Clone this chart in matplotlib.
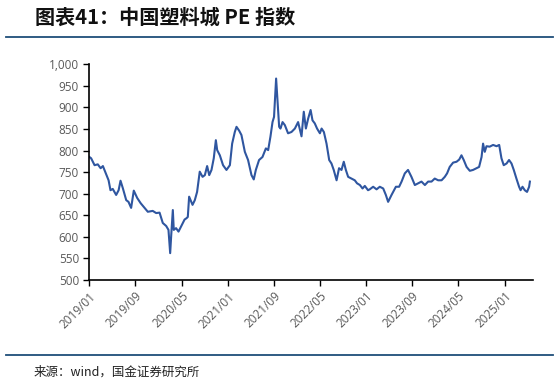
import pandas as pd
import matplotlib
matplotlib.use('Agg')
import matplotlib.pyplot as plt
from matplotlib.lines import Line2D
from matplotlib.ticker import FuncFormatter

plt.rcParams['font.family'] = ['Open Sans', 'Noto Sans CJK SC', 'DejaVu Sans']

# PE index readings (approximate)
dates = [
    "2019-01-01", "2019-01-10", "2019-01-28", "2019-02-14", "2019-03-01", "2019-03-13", "2019-03-25",
    "2019-04-12", "2019-04-22", "2019-05-04", "2019-05-22", "2019-06-04", "2019-06-14", "2019-06-26",
    "2019-07-14", "2019-07-26", "2019-08-09", "2019-08-23", "2019-09-10", "2019-09-28", "2019-10-19",
    "2019-11-05", "2019-12-01", "2019-12-19", "2020-01-06", "2020-01-23", "2020-02-10", "2020-02-22",
    "2020-03-02", "2020-03-07", "2020-03-16", "2020-03-21", "2020-04-02", "2020-04-15", "2020-05-02",
    "2020-05-17", "2020-05-27", "2020-06-03", "2020-06-10", "2020-06-28", "2020-07-10", "2020-07-22",
    "2020-08-05", "2020-08-20", "2020-09-01", "2020-09-13", "2020-09-24", "2020-10-06", "2020-10-18",
    "2020-10-29", "2020-11-05", "2020-11-19", "2020-12-06", "2020-12-24", "2021-01-11", "2021-01-23",
    "2021-02-06", "2021-02-15", "2021-03-01", "2021-03-13", "2021-03-31", "2021-04-17", "2021-05-05",
    "2021-05-17", "2021-05-28", "2021-06-14", "2021-07-02", "2021-07-20", "2021-08-01", "2021-08-13",
    "2021-08-24", "2021-09-01", "2021-09-12", "2021-09-18", "2021-09-28", "2021-10-05", "2021-10-16",
    "2021-10-28", "2021-11-14", "2021-12-02", "2021-12-20", "2022-01-06", "2022-01-24", "2022-02-05",
    "2022-02-16", "2022-02-28", "2022-03-13", "2022-03-23", "2022-04-04", "2022-04-16", "2022-05-01",
    "2022-05-10", "2022-05-22", "2022-06-05", "2022-06-19", "2022-07-01", "2022-07-13", "2022-07-28",
    "2022-08-10", "2022-08-23", "2022-09-04", "2022-09-15", "2022-09-27", "2022-10-15", "2022-11-01",
    "2022-11-13", "2022-11-28", "2022-12-12", "2022-12-24", "2023-01-10", "2023-01-19", "2023-02-06",
    "2023-02-24", "2023-03-13", "2023-03-31", "2023-04-14", "2023-04-26", "2023-05-14", "2023-06-06",
    "2023-06-23", "2023-07-06", "2023-07-23", "2023-08-09", "2023-08-27", "2023-09-14", "2023-10-01",
    "2023-10-19", "2023-11-06", "2023-11-23", "2023-12-11", "2023-12-28", "2024-01-15", "2024-02-02",
    "2024-02-19", "2024-03-02", "2024-03-16", "2024-04-03", "2024-04-21", "2024-05-05", "2024-05-17",
    "2024-05-29", "2024-06-13", "2024-06-30", "2024-07-17", "2024-08-04", "2024-08-18", "2024-08-31",
    "2024-09-08", "2024-09-17", "2024-09-26", "2024-10-13", "2024-10-31", "2024-11-18", "2024-12-02",
    "2024-12-14", "2024-12-26", "2025-01-10", "2025-01-23", "2025-02-05", "2025-02-17", "2025-03-03",
    "2025-03-17", "2025-03-25", "2025-04-04", "2025-04-16", "2025-04-28", "2025-05-09", "2025-05-13",
]
values = [
    785, 782, 766, 768, 759, 764, 751,
    731, 708, 711, 697, 708, 730, 713,
    685, 681, 667, 707, 690, 678, 667,
    658, 660, 655, 656, 632, 625, 616,
    562, 600, 662, 616, 620, 612, 627,
    640, 643, 646, 693, 674, 685, 704,
    751, 739, 743, 764, 743, 755, 782,
    824, 801, 789, 766, 755, 766, 816,
    843, 855, 846, 836, 797, 778, 743,
    733, 755, 778, 785, 805, 801, 832,
    866, 878, 967, 924, 855, 851, 866,
    859, 840, 843, 851, 866, 833, 890,
    851, 874, 894, 870, 863, 851, 840,
    851, 843, 816, 778, 770, 755, 731,
    759, 755, 774, 755, 739, 735, 731,
    724, 720, 712, 718, 708, 710, 716,
    710, 716, 712, 697, 681, 697, 716,
    716, 728, 747, 755, 739, 720, 724,
    728, 720, 728, 728, 735, 731, 731,
    739, 747, 762, 772, 774, 779, 789,
    778, 762, 753, 755, 759, 762, 785,
    816, 797, 810, 809, 813, 810, 813,
    782, 766, 770, 778, 770, 755, 735,
    716, 708, 716, 708, 704, 716, 728,
]
tick_labels = ["2019/01", "2019/09", "2020/05", "2021/01", "2021/09",
               "2022/05", "2023/01", "2023/09", "2024/05", "2025/01"]

title = "图表41：中国塑料城 PE 指数"
source = "来源：wind，国金证券研究所"

x = pd.to_datetime(dates)
ticks = pd.to_datetime([t.replace("/", "-") + "-01" for t in tick_labels])

fig = plt.figure(figsize=(5.59, 3.85), dpi=100)
ax = fig.add_axes([0.160, 0.273, 0.793, 0.560])
ax.plot(x, values, color='#2F56A0', lw=1.5)

ax.set_ylim(500, 1000)
ax.set_yticks(range(500, 1001, 50))
ax.yaxis.set_major_formatter(FuncFormatter(lambda v, p: f"{int(v):,}"))
ax.set_xlim(pd.Timestamp("2019-01-01"), pd.Timestamp("2025-05-28"))
ax.set_xticks(ticks)
ax.set_xticklabels(tick_labels, rotation=45, ha='right', rotation_mode='anchor')

for s in ['top', 'right']:
    ax.spines[s].set_visible(False)
for s in ['left', 'bottom']:
    ax.spines[s].set_color('black')
    ax.spines[s].set_linewidth(1.2)
ax.tick_params(axis='both', direction='out', length=4, width=1, color='black',
               labelsize=8.5, labelcolor='#595959')
ax.tick_params(axis='x', pad=3)

fig.text(0.063, 0.955, title, fontsize=14.5, fontweight='bold', color='#111111',
         family=['Noto Sans CJK SC', 'DejaVu Sans'], va='center', style='italic')
fig.add_artist(Line2D([0.01, 0.99], [0.905, 0.905], color='#1F4E79', lw=1.3))
fig.add_artist(Line2D([0.01, 0.99], [0.078, 0.078], color='#1F4E79', lw=1.3))
fig.text(0.06, 0.033, source, fontsize=9, color='#222222',
         family=['Noto Sans CJK SC', 'DejaVu Sans'], va='center')

fig.savefig('out.png', dpi=100)
